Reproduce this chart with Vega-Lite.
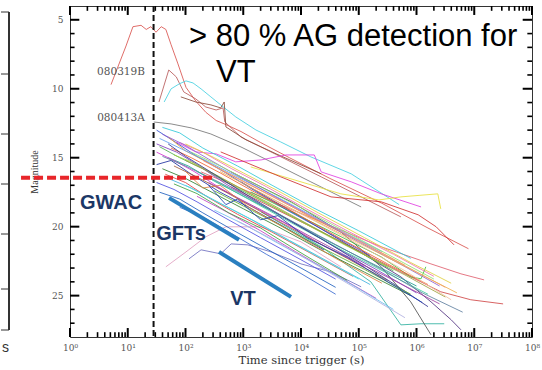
{
  "$schema": "https://vega.github.io/schema/vega-lite/v6.json",
  "padding": {"left": 0, "top": 4, "right": 5, "bottom": 2},
  "background": "white",
  "bounds": "flush",
  "spacing": 61,
  "hconcat": [
    {
      "width": 8,
      "height": 331,
      "view": {"stroke": null},
      "data": {"values": [{"b": 6}, {"b": 68}, {"b": 128}, {"b": 178}, {"b": 228}, {"b": 283}, {"b": 324}]},
      "layer": [
        {
          "mark": {"type": "rule", "color": "#333", "strokeWidth": 1},
          "encoding": {"y": {"field": "b", "type": "quantitative", "scale": {"domain": [0, 331], "reverse": true}, "axis": null}}
        },
        {
          "mark": {"type": "rule", "color": "#333", "strokeWidth": 1},
          "encoding": {
            "x": {"datum": 1, "type": "quantitative", "scale": {"domain": [0, 1]}, "axis": {"title": "s", "labels": false, "ticks": false, "domain": false, "grid": false, "titleFont": "Liberation Sans", "titleFontSize": 14, "titleFontWeight": "normal", "titleColor": "#333", "titlePadding": 3}},
            "y": {"datum": 6, "type": "quantitative", "scale": {"domain": [0, 331], "reverse": true}, "axis": null},
            "y2": {"datum": 324}
          }
        }
      ]
    },
    {
      "width": 462,
      "height": 331,
      "view": {"stroke": "#333", "strokeWidth": 1},
      "layer": [
        {
          "data": {"values": [
{"g":"C1","t":5.13,"m":9.7},{"g":"C1","t":9.33,"m":6.9},{"g":"C1","t":12.3,"m":5.5},{"g":"C1","t":17,"m":5.4},{"g":"C1","t":20.9,"m":5.7},{"g":"C1","t":25.1,"m":5.5},{"g":"C1","t":30.9,"m":5.9},{"g":"C1","t":38,"m":5.5},{"g":"C1","t":45.7,"m":5.7},{"g":"C1","t":56.2,"m":6.8},{"g":"C1","t":74.1,"m":8.2},{"g":"C1","t":102,"m":9.9},{"g":"C1","t":151,"m":10.9},{"g":"C1","t":224,"m":11.7},{"g":"C1","t":339,"m":12.3},{"g":"C1","t":501,"m":12.6},{"g":"C1","t":912,"m":13.1},{"g":"C1","t":2000,"m":13.9},{"g":"C1","t":6310,"m":15.0},{"g":"C1","t":31600,"m":16.5},{"g":"C1","t":251000,"m":18.3},{"g":"C1","t":1580000,"m":20.1},{"g":"C1","t":7940000,"m":21.6},
{"g":"C2","t":34.7,"m":10.96},{"g":"C2","t":51.3,"m":8.64},{"g":"C2","t":69.2,"m":9.14},{"g":"C2","t":93.3,"m":10.23},{"g":"C2","t":151,"m":10.74},{"g":"C2","t":224,"m":11.32},{"g":"C2","t":339,"m":11.54},{"g":"C2","t":447,"m":11.39},{"g":"C2","t":479,"m":12.4},{"g":"C2","t":912,"m":13.5},{"g":"C2","t":3020,"m":14.58},{"g":"C2","t":22400,"m":16.39},{"g":"C2","t":110000,"m":17.84},{"g":"C2","t":537000,"m":19.29},
{"g":"C3","t":42.7,"m":10.96},{"g":"C3","t":56.2,"m":10.01},{"g":"C3","t":77.6,"m":9.65},{"g":"C3","t":102,"m":9.43},{"g":"C3","t":135,"m":9.58},{"g":"C3","t":186,"m":10.01},{"g":"C3","t":275,"m":10.59},{"g":"C3","t":407,"m":11.17},{"g":"C3","t":741,"m":12.04},{"g":"C3","t":1660,"m":12.99},{"g":"C3","t":4470,"m":13.86},{"g":"C3","t":14800,"m":14.94},{"g":"C3","t":74100,"m":16.17},{"g":"C3","t":501000,"m":18.4},
{"g":"C4","t":83,"m":10.59},{"g":"C4","t":151,"m":10.96},{"g":"C4","t":275,"m":11.17},{"g":"C4","t":407,"m":11.39},{"g":"C4","t":468,"m":10.96},{"g":"C4","t":501,"m":12.77},{"g":"C4","t":1120,"m":13.71},{"g":"C4","t":3720,"m":14.72},{"g":"C4","t":22400,"m":16.17},
{"g":"C5","t":28.2,"m":12.41},{"g":"C5","t":56.2,"m":12.55},{"g":"C5","t":126,"m":12.84},{"g":"C5","t":275,"m":13.28},{"g":"C5","t":912,"m":14.22},{"g":"C5","t":3020,"m":15.3},{"g":"C5","t":14800,"m":16.75},{"g":"C5","t":110000,"m":18.57},
{"g":"C6","t":69.2,"m":13.86},{"g":"C6","t":151,"m":14.58},{"g":"C6","t":339,"m":14.72},{"g":"C6","t":741,"m":15.3},{"g":"C6","t":2040,"m":15.16},{"g":"C6","t":5500,"m":14.8},{"g":"C6","t":17000,"m":14.8},{"g":"C6","t":22400,"m":16.03},{"g":"C6","t":74100,"m":16.75},{"g":"C6","t":245000,"m":17.62},{"g":"C6","t":1200000,"m":18.57},
{"g":"C7","t":1350,"m":15.67},{"g":"C7","t":10000,"m":16.75},{"g":"C7","t":49000,"m":17.62},{"g":"C7","t":224000,"m":18.06},{"g":"C7","t":537000,"m":17.84},{"g":"C7","t":2340000,"m":17.62},{"g":"C7","t":2630000,"m":18.71},
{"g":"C8","t":407,"m":14.58},{"g":"C8","t":4470,"m":16.39},{"g":"C8","t":33100,"m":17.84},{"g":"C8","t":245000,"m":18.2},{"g":"C8","t":1070000,"m":19.14},{"g":"C8","t":2190000,"m":20.01},{"g":"C8","t":4470000,"m":21.32},
{"g":"C9","t":186,"m":16.03},{"g":"C9","t":2040,"m":17.84},{"g":"C9","t":22400,"m":19.65},{"g":"C9","t":245000,"m":21.46},{"g":"C9","t":1780000,"m":22.7},{"g":"C9","t":5890000,"m":23.42},{"g":"C9","t":14800000,"m":23.86},
{"g":"C10","t":617,"m":17.12},{"g":"C10","t":6760,"m":19.29},{"g":"C10","t":74100,"m":21.46},{"g":"C10","t":537000,"m":23.28},{"g":"C10","t":2630000,"m":24.72},{"g":"C10","t":8710000,"m":25.3},{"g":"C10","t":31600000,"m":25.6},
{"g":"C11","t":912,"m":16.75},{"g":"C11","t":10000,"m":19.29},{"g":"C11","t":74100,"m":21.46},{"g":"C11","t":537000,"m":23.64},{"g":"C11","t":1780000,"m":25.45},{"g":"C11","t":3980000,"m":26.75},{"g":"C11","t":5890000,"m":27.48},
{"g":"C12","t":2040,"m":18.93},{"g":"C12","t":22400,"m":21.46},{"g":"C12","t":162000,"m":24.0},{"g":"C12","t":537000,"m":27.12},{"g":"C12","t":1200000,"m":27.04},{"g":"C12","t":3020000,"m":27.04},
{"g":"C13","t":617,"m":16.03},{"g":"C13","t":6760,"m":18.2},{"g":"C13","t":49000,"m":20.38},{"g":"C13","t":245000,"m":22.91},{"g":"C13","t":794000,"m":25.45},{"g":"C13","t":1780000,"m":27.84},
{"g":"C14","t":1350,"m":17.48},{"g":"C14","t":22400,"m":20.01},{"g":"C14","t":245000,"m":22.19},{"g":"C14","t":794000,"m":23.64},{"g":"C14","t":1200000,"m":23.78},{"g":"C14","t":1450000,"m":22.91},
{"g":"C15","t":115,"m":22.33},{"g":"C15","t":186,"m":21.68},{"g":"C15","t":407,"m":21.97},{"g":"C15","t":617,"m":21.25},{"g":"C15","t":1200,"m":21.32},{"g":"C15","t":3020,"m":21.83},{"g":"C15","t":10000,"m":22.7},{"g":"C15","t":33100,"m":23.28},{"g":"C15","t":110000,"m":24.36},
{"g":"C16","t":45.7,"m":22.91},{"g":"C16","t":102,"m":21.83},{"g":"C16","t":224,"m":20.74},{"g":"C16","t":501,"m":20.01},{"g":"C16","t":2040,"m":20.01},{"g":"C16","t":10000,"m":21.1},{"g":"C16","t":49000,"m":22.91},
{"g":"B1","t":31.6,"m":13.0},{"g":"B1","t":63.1,"m":13.8},{"g":"B1","t":158,"m":14.9},{"g":"B1","t":501,"m":16.1},{"g":"B1","t":1580,"m":17.4},{"g":"B1","t":6310,"m":18.9},{"g":"B1","t":31600,"m":20.5},{"g":"B1","t":158000,"m":22.1},
{"g":"B2","t":35.5,"m":14.2},{"g":"B2","t":79.4,"m":15.0},{"g":"B2","t":200,"m":15.8},{"g":"B2","t":631,"m":17.0},{"g":"B2","t":2510,"m":18.3},{"g":"B2","t":12600,"m":19.8},{"g":"B2","t":79400,"m":21.6},{"g":"B2","t":398000,"m":23.2},
{"g":"B3","t":50.1,"m":13.5},{"g":"B3","t":100,"m":14.5},{"g":"B3","t":316,"m":15.6},{"g":"B3","t":1000,"m":16.7},{"g":"B3","t":3980,"m":18.0},{"g":"B3","t":20000,"m":19.6},{"g":"B3","t":100000,"m":21.0},{"g":"B3","t":631000,"m":22.8},
{"g":"B4","t":31.6,"m":15.5},{"g":"B4","t":56.2,"m":15.2},{"g":"B4","t":126,"m":16.2},{"g":"B4","t":398,"m":17.5},{"g":"B4","t":1260,"m":18.6},{"g":"B4","t":5010,"m":20.0},{"g":"B4","t":25100,"m":21.7},
{"g":"B5","t":39.8,"m":12.8},{"g":"B5","t":79.4,"m":13.2},{"g":"B5","t":200,"m":14.3},{"g":"B5","t":794,"m":15.6},{"g":"B5","t":3160,"m":17.0},{"g":"B5","t":15800,"m":18.6},{"g":"B5","t":100000,"m":20.3},{"g":"B5","t":794000,"m":22.3},
{"g":"B6","t":31.6,"m":14.0},{"g":"B6","t":70.8,"m":14.6},{"g":"B6","t":158,"m":15.5},{"g":"B6","t":501,"m":16.9},{"g":"B6","t":2000,"m":18.4},{"g":"B6","t":7940,"m":19.8},{"g":"B6","t":39800,"m":21.5},{"g":"B6","t":200000,"m":23.1},{"g":"B6","t":1000000,"m":24.8},
{"g":"B7","t":63.1,"m":14.8},{"g":"B7","t":126,"m":15.3},{"g":"B7","t":398,"m":16.4},{"g":"B7","t":1580,"m":17.8},{"g":"B7","t":7940,"m":19.4},{"g":"B7","t":50100,"m":21.2},{"g":"B7","t":316000,"m":22.9},
{"g":"B8","t":44.7,"m":16.2},{"g":"B8","t":100,"m":16.8},{"g":"B8","t":251,"m":17.9},{"g":"B8","t":794,"m":19.1},{"g":"B8","t":3160,"m":20.4},{"g":"B8","t":15800,"m":22.0},{"g":"B8","t":79400,"m":23.6},
{"g":"B9","t":50.1,"m":15.0},{"g":"B9","t":112,"m":15.6},{"g":"B9","t":316,"m":16.7},{"g":"B9","t":1260,"m":18.0},{"g":"B9","t":5010,"m":19.3},{"g":"B9","t":25100,"m":20.9},{"g":"B9","t":158000,"m":22.6},{"g":"B9","t":1000000,"m":24.3},
{"g":"B10","t":79.4,"m":13.9},{"g":"B10","t":200,"m":14.6},{"g":"B10","t":631,"m":15.8},{"g":"B10","t":2510,"m":17.1},{"g":"B10","t":10000,"m":18.5},{"g":"B10","t":63100,"m":20.3},{"g":"B10","t":398000,"m":22.0},{"g":"B10","t":2000000,"m":23.6},
{"g":"B11","t":31.6,"m":16.8},{"g":"B11","t":63.1,"m":17.3},{"g":"B11","t":158,"m":18.2},{"g":"B11","t":501,"m":19.4},{"g":"B11","t":2000,"m":20.8},{"g":"B11","t":10000,"m":22.4},{"g":"B11","t":39800,"m":23.8},
{"g":"B12","t":100,"m":15.2},{"g":"B12","t":251,"m":16.0},{"g":"B12","t":794,"m":17.1},{"g":"B12","t":3160,"m":18.4},{"g":"B12","t":15800,"m":20.0},{"g":"B12","t":100000,"m":21.8},{"g":"B12","t":631000,"m":23.5},{"g":"B12","t":3160000,"m":25.1},
{"g":"B13","t":35.5,"m":13.6},{"g":"B13","t":79.4,"m":14.3},{"g":"B13","t":251,"m":15.3},{"g":"B13","t":1000,"m":16.6},{"g":"B13","t":5010,"m":18.1},{"g":"B13","t":31600,"m":19.9},{"g":"B13","t":251000,"m":21.8},
{"g":"B14","t":39.8,"m":15.8},{"g":"B14","t":100,"m":16.5},{"g":"B14","t":316,"m":17.6},{"g":"B14","t":1000,"m":18.7},{"g":"B14","t":3980,"m":20.0},{"g":"B14","t":20000,"m":21.6},{"g":"B14","t":126000,"m":23.3},{"g":"B14","t":794000,"m":25.0},
{"g":"B15","t":56.2,"m":14.3},{"g":"B15","t":126,"m":15.0},{"g":"B15","t":398,"m":16.1},{"g":"B15","t":1580,"m":17.5},{"g":"B15","t":7940,"m":19.0},{"g":"B15","t":50100,"m":20.9},{"g":"B15","t":316000,"m":22.7},{"g":"B15","t":1580000,"m":24.2},
{"g":"B16","t":31.6,"m":14.6},{"g":"B16","t":63.1,"m":15.2},{"g":"B16","t":141,"m":16.0},{"g":"B16","t":398,"m":17.2},{"g":"B16","t":1260,"m":18.4},{"g":"B16","t":5010,"m":19.7},{"g":"B16","t":25100,"m":21.4},{"g":"B16","t":126000,"m":22.9},
{"g":"B17","t":100,"m":14.0},{"g":"B17","t":316,"m":15.0},{"g":"B17","t":1000,"m":16.1},{"g":"B17","t":3980,"m":17.4},{"g":"B17","t":20000,"m":19.0},{"g":"B17","t":126000,"m":20.8},{"g":"B17","t":794000,"m":22.6},{"g":"B17","t":3980000,"m":24.1},
{"g":"B18","t":50.1,"m":16.5},{"g":"B18","t":126,"m":17.2},{"g":"B18","t":398,"m":18.3},{"g":"B18","t":1580,"m":19.6},{"g":"B18","t":6310,"m":21.0},{"g":"B18","t":31600,"m":22.6},{"g":"B18","t":158000,"m":24.2},
{"g":"B19","t":39.8,"m":13.3},{"g":"B19","t":89.1,"m":14.0},{"g":"B19","t":251,"m":15.1},{"g":"B19","t":794,"m":16.3},{"g":"B19","t":3160,"m":17.7},{"g":"B19","t":15800,"m":19.3},{"g":"B19","t":100000,"m":21.1},{"g":"B19","t":631000,"m":22.9},{"g":"B19","t":2510000,"m":24.3},
{"g":"B20","t":158,"m":16.0},{"g":"B20","t":501,"m":17.1},{"g":"B20","t":2000,"m":18.5},{"g":"B20","t":10000,"m":20.1},{"g":"B20","t":63100,"m":21.9},{"g":"B20","t":398000,"m":23.6},{"g":"B20","t":1580000,"m":24.9},
{"g":"B21","t":63.1,"m":15.6},{"g":"B21","t":158,"m":16.4},{"g":"B21","t":501,"m":17.5},{"g":"B21","t":2000,"m":18.9},{"g":"B21","t":10000,"m":20.5},{"g":"B21","t":63100,"m":22.3},{"g":"B21","t":316000,"m":23.9},
{"g":"B22","t":35.5,"m":17.5},{"g":"B22","t":79.4,"m":18.0},{"g":"B22","t":200,"m":19.0},{"g":"B22","t":631,"m":20.2},{"g":"B22","t":2510,"m":21.6},{"g":"B22","t":10000,"m":23.0},{"g":"B22","t":39800,"m":24.4},
{"g":"B23","t":126,"m":14.6},{"g":"B23","t":398,"m":15.6},{"g":"B23","t":1580,"m":16.9},{"g":"B23","t":7940,"m":18.4},{"g":"B23","t":50100,"m":20.2},{"g":"B23","t":316000,"m":22.0},{"g":"B23","t":2000000,"m":23.8},
{"g":"B24","t":200,"m":15.2},{"g":"B24","t":631,"m":16.3},{"g":"B24","t":2510,"m":17.6},{"g":"B24","t":12600,"m":19.1},{"g":"B24","t":79400,"m":20.8},{"g":"B24","t":501000,"m":22.6},{"g":"B24","t":3160000,"m":24.4},
{"g":"B25","t":50.1,"m":14.0},{"g":"B25","t":100,"m":14.9},{"g":"B25","t":316,"m":16.2},{"g":"B25","t":1260,"m":17.8},{"g":"B25","t":5010,"m":19.3},{"g":"B25","t":25100,"m":21.0},{"g":"B25","t":126000,"m":22.8},{"g":"B25","t":501000,"m":24.4},{"g":"B25","t":1580000,"m":25.8},
{"g":"B26","t":100,"m":17.0},{"g":"B26","t":316,"m":18.1},{"g":"B26","t":1260,"m":19.4},{"g":"B26","t":5010,"m":20.8},{"g":"B26","t":20000,"m":22.2},{"g":"B26","t":100000,"m":23.8},
{"g":"B27","t":251,"m":16.8},{"g":"B27","t":794,"m":17.9},{"g":"B27","t":3160,"m":19.2},{"g":"B27","t":15800,"m":20.8},{"g":"B27","t":100000,"m":22.6},{"g":"B27","t":631000,"m":24.3},{"g":"B27","t":2510000,"m":25.6},
{"g":"B28","t":316,"m":17.4},{"g":"B28","t":1000,"m":18.5},{"g":"B28","t":3980,"m":19.8},{"g":"B28","t":20000,"m":21.4},{"g":"B28","t":126000,"m":23.1},{"g":"B28","t":794000,"m":24.9},
{"g":"B29","t":39.8,"m":14.9},{"g":"B29","t":100,"m":15.6},{"g":"B29","t":316,"m":16.6},{"g":"B29","t":1260,"m":17.9},{"g":"B29","t":6310,"m":19.5},{"g":"B29","t":39800,"m":21.3},{"g":"B29","t":251000,"m":23.1},{"g":"B29","t":1260000,"m":24.8},{"g":"B29","t":6310000,"m":26.2},
{"g":"B30","t":398,"m":16.0},{"g":"B30","t":1260,"m":17.1},{"g":"B30","t":5010,"m":18.4},{"g":"B30","t":25100,"m":19.9},{"g":"B30","t":158000,"m":21.6},{"g":"B30","t":1000000,"m":23.3},{"g":"B30","t":5010000,"m":24.8},
{"g":"B31","t":79.4,"m":18.6},{"g":"B31","t":200,"m":19.3},{"g":"B31","t":631,"m":20.5},{"g":"B31","t":2510,"m":22.0},{"g":"B31","t":10000,"m":23.4},{"g":"B31","t":39800,"m":24.9},
{"g":"B32","t":158,"m":17.8},{"g":"B32","t":501,"m":18.9},{"g":"B32","t":2000,"m":20.3},{"g":"B32","t":7940,"m":21.8},{"g":"B32","t":39800,"m":23.5},{"g":"B32","t":200000,"m":25.2},
{"g":"B33","t":316,"m":18.8},{"g":"B33","t":1000,"m":19.8},{"g":"B33","t":3980,"m":21.2},{"g":"B33","t":20000,"m":22.8},{"g":"B33","t":100000,"m":24.5},{"g":"B33","t":398000,"m":26.0},
{"g":"B34","t":100,"m":16.0},{"g":"B34","t":200,"m":17.2},{"g":"B34","t":398,"m":17.0},{"g":"B34","t":1260,"m":18.6},{"g":"B34","t":6310,"m":20.3},{"g":"B34","t":39800,"m":22.3},{"g":"B34","t":251000,"m":24.1},
{"g":"B35","t":63.1,"m":16.9},{"g":"B35","t":158,"m":17.6},{"g":"B35","t":562,"m":19.0},{"g":"B35","t":2000,"m":20.1},{"g":"B35","t":10000,"m":21.9},{"g":"B35","t":63100,"m":23.9},
{"g":"B36","t":794,"m":19.6},{"g":"B36","t":3160,"m":20.9},{"g":"B36","t":15800,"m":22.6},{"g":"B36","t":100000,"m":24.6},{"g":"B36","t":631000,"m":26.6},
{"g":"B37","t":251,"m":17.0},{"g":"B37","t":501,"m":18.4},{"g":"B37","t":794,"m":18.0},{"g":"B37","t":2000,"m":19.5},{"g":"B37","t":3980,"m":19.2},{"g":"B37","t":12600,"m":20.8},{"g":"B37","t":63100,"m":22.2},{"g":"B37","t":316000,"m":24.0},{"g":"B37","t":1260000,"m":25.5},
{"g":"B38","t":3160,"m":18.0},{"g":"B38","t":15800,"m":19.5},{"g":"B38","t":100000,"m":21.3},{"g":"B38","t":631000,"m":23.2},{"g":"B38","t":3980000,"m":25.3}
          ]},
          "mark": {"type": "line", "strokeWidth": 1, "opacity": 0.85},
          "encoding": {
            "x": {"field": "t", "type": "quantitative", "scale": {"type": "log", "domain": [1, 100000000], "nice": false},
              "axis": {"orient": "bottom", "title": "Time since trigger (s)", "grid": false, "domain": false, "ticks": false,
                "values": [1,10,100,1000,10000,100000,1000000,10000000,100000000],
                "labelExpr": "'10' + ['⁰','¹','²','³','⁴','⁵','⁶','⁷','⁸'][round(log(datum.value)/LN10)]",
                "labelPadding": 6, "labelFlush": false, "labelOverlap": false,
                "labelFont": "DejaVu Serif", "labelFontSize": 9, "labelColor": "#555",
                "titleFont": "DejaVu Serif", "titleFontSize": 11.5, "titleFontWeight": "normal", "titleColor": "#333", "titlePadding": 2}},
            "y": {"field": "m", "type": "quantitative", "scale": {"domain": [4, 28], "reverse": true, "nice": false, "zero": false},
              "axis": {"orient": "left", "title": "Magnitude", "grid": false, "domain": false, "ticks": false,
                "values": [5,10,15,20,25],
                "labelPadding": 7, "labelFlush": false, "labelOverlap": false,
                "labelFont": "DejaVu Serif", "labelFontSize": 9, "labelColor": "#555",
                "titleFont": "Liberation Serif", "titleFontSize": 10, "titleFontWeight": "normal", "titleColor": "#333", "titlePadding": 12}},
            "color": {"field": "g", "type": "nominal", "legend": null,
              "scale": {
                "domain": ["C1","C2","C3","C4","C5","C6","C7","C8","C9","C10","C11","C12","C13","C14","C15","C16","B1","B2","B3","B4","B5","B6","B7","B8","B9","B10","B11","B12","B13","B14","B15","B16","B17","B18","B19","B20","B21","B22","B23","B24","B25","B26","B27","B28","B29","B30","B31","B32","B33","B34","B35","B36","B37","B38"],
                "range": ["#d9534f","#b85c5c","#45d0e0","#8b4a3a","#777777","#e040e0","#e8e040","#d03030","#e06070","#d04848","#503080","#30b0a0","#505050","#40c040","#7070c0","#e0a0c0","#3050d0","#50b050","#f0a030","#2030a0","#30c8d8","#8040c0","#a0d040","#e04040","#20a090","#f070b0","#5050e0","#a0a040","#60a0f0","#308030","#f06030","#d030d0","#e0d040","#40b0e0","#9060d0","#40d0a0","#a06040","#2060c0","#90e070","#f09080","#303090","#50e0e0","#a040a0","#60b030","#6080a0","#f0b050","#3a6ad0","#c040c0","#70c0f0","#e08040","#40a040","#b0b0e0","#2040b0","#f0c0a0"]}}
          }
        },
        {
          "data": {"values": [{"v":1},{"v":10},{"v":100},{"v":1000},{"v":10000},{"v":100000},{"v":1000000},{"v":10000000},{"v":100000000}]},
          "layer": [
            {"mark": {"type": "rule", "color": "#000", "strokeWidth": 2},
             "encoding": {"x": {"field": "v", "type": "quantitative"}, "y": {"datum": 28, "type": "quantitative"}, "y2": {"datum": 27.35}}},
            {"mark": {"type": "rule", "color": "#000", "strokeWidth": 2},
             "encoding": {"x": {"field": "v", "type": "quantitative"}, "y": {"datum": 4, "type": "quantitative"}, "y2": {"datum": 4.65}}}
          ]
        },
        {
          "data": {"values": [{"v":2},{"v":3},{"v":4},{"v":5},{"v":6},{"v":7},{"v":8},{"v":9},{"v":20},{"v":30},{"v":40},{"v":50},{"v":60},{"v":70},{"v":80},{"v":90},{"v":200},{"v":300},{"v":400},{"v":500},{"v":600},{"v":700},{"v":800},{"v":900},{"v":2000},{"v":3000},{"v":4000},{"v":5000},{"v":6000},{"v":7000},{"v":8000},{"v":9000},{"v":20000},{"v":30000},{"v":40000},{"v":50000},{"v":60000},{"v":70000},{"v":80000},{"v":90000},{"v":200000},{"v":300000},{"v":400000},{"v":500000},{"v":600000},{"v":700000},{"v":800000},{"v":900000},{"v":2000000},{"v":3000000},{"v":4000000},{"v":5000000},{"v":6000000},{"v":7000000},{"v":8000000},{"v":9000000},{"v":20000000},{"v":30000000},{"v":40000000},{"v":50000000},{"v":60000000},{"v":70000000},{"v":80000000},{"v":90000000}]},
          "layer": [
            {"mark": {"type": "rule", "color": "#000", "strokeWidth": 1.6},
             "encoding": {"x": {"field": "v", "type": "quantitative"}, "y": {"datum": 28, "type": "quantitative"}, "y2": {"datum": 27.65}}},
            {"mark": {"type": "rule", "color": "#000", "strokeWidth": 1.6},
             "encoding": {"x": {"field": "v", "type": "quantitative"}, "y": {"datum": 4, "type": "quantitative"}, "y2": {"datum": 4.35}}}
          ]
        },
        {
          "data": {"values": [{"v":5},{"v":10},{"v":15},{"v":20},{"v":25}]},
          "layer": [
            {"mark": {"type": "rule", "color": "#000", "strokeWidth": 2},
             "encoding": {"y": {"field": "v", "type": "quantitative"}, "x": {"datum": 1, "type": "quantitative"}, "x2": {"datum": 1.45}}},
            {"mark": {"type": "rule", "color": "#000", "strokeWidth": 2},
             "encoding": {"y": {"field": "v", "type": "quantitative"}, "x": {"datum": 69000000, "type": "quantitative"}, "x2": {"datum": 100000000}}}
          ]
        },
        {
          "data": {"values": [{"v":6},{"v":7},{"v":8},{"v":9},{"v":11},{"v":12},{"v":13},{"v":14},{"v":16},{"v":17},{"v":18},{"v":19},{"v":21},{"v":22},{"v":23},{"v":24},{"v":26},{"v":27}]},
          "layer": [
            {"mark": {"type": "rule", "color": "#000", "strokeWidth": 1.6},
             "encoding": {"y": {"field": "v", "type": "quantitative"}, "x": {"datum": 1, "type": "quantitative"}, "x2": {"datum": 1.2}}},
            {"mark": {"type": "rule", "color": "#000", "strokeWidth": 1.6},
             "encoding": {"y": {"field": "v", "type": "quantitative"}, "x": {"datum": 83000000, "type": "quantitative"}, "x2": {"datum": 100000000}}}
          ]
        },
        {
          "data": {"values": [{"t": 28}]},
          "mark": {"type": "rule", "color": "#111", "strokeWidth": 2, "strokeDash": [6, 3]},
          "encoding": {"x": {"field": "t", "type": "quantitative"}}
        },
        {
          "data": {"values": [{"t1": 0.142, "t2": 299, "m": 16.45}]},
          "mark": {"type": "rule", "color": "#e8262a", "strokeWidth": 4, "strokeDash": [9, 4]},
          "encoding": {
            "x": {"field": "t1", "type": "quantitative"},
            "x2": {"field": "t2"},
            "y": {"field": "m", "type": "quantitative"}
          }
        },
        {
          "data": {"values": [{"t1": 51.8, "m1": 17.91, "t2": 844, "m2": 20.96}, {"t1": 380, "m1": 21.83, "t2": 6710, "m2": 25.09}]},
          "mark": {"type": "rule", "color": "#2a7fc0", "strokeWidth": 4},
          "encoding": {
            "x": {"field": "t1", "type": "quantitative"},
            "x2": {"field": "t2"},
            "y": {"field": "m1", "type": "quantitative"},
            "y2": {"field": "m2"}
          }
        },
        {
          "data": {"values": [{"t": 5.13, "m": 18.28, "label": "GWAC"}, {"t": 83.6, "m": 20.52, "label": "GFTs"}, {"t": 991, "m": 25.23, "label": "VT"}]},
          "mark": {"type": "text", "font": "Liberation Sans", "fontWeight": "bold", "fontSize": 20, "color": "#1b3766", "align": "center", "baseline": "middle"},
          "encoding": {
            "x": {"field": "t", "type": "quantitative"},
            "y": {"field": "m", "type": "quantitative"},
            "text": {"field": "label"}
          }
        },
        {
          "data": {"values": [{"t": 7.64, "m": 8.78, "label": "080319B"}, {"t": 7.64, "m": 12.12, "label": "080413A"}]},
          "mark": {"type": "text", "font": "DejaVu Serif", "fontSize": 10.5, "color": "#555", "align": "center", "baseline": "middle"},
          "encoding": {
            "x": {"field": "t", "type": "quantitative"},
            "y": {"field": "m", "type": "quantitative"},
            "text": {"field": "label"}
          }
        },
        {
          "data": {"values": [{"t": 115, "m": 6.9, "label": "> 80 % AG detection for"}, {"t": 337, "m": 9.5, "label": "VT"}]},
          "mark": {"type": "text", "font": "Liberation Sans", "fontSize": 31, "color": "#000", "align": "left", "baseline": "alphabetic"},
          "encoding": {
            "x": {"field": "t", "type": "quantitative"},
            "y": {"field": "m", "type": "quantitative"},
            "text": {"field": "label"}
          }
        }
      ]
    }
  ]
}
